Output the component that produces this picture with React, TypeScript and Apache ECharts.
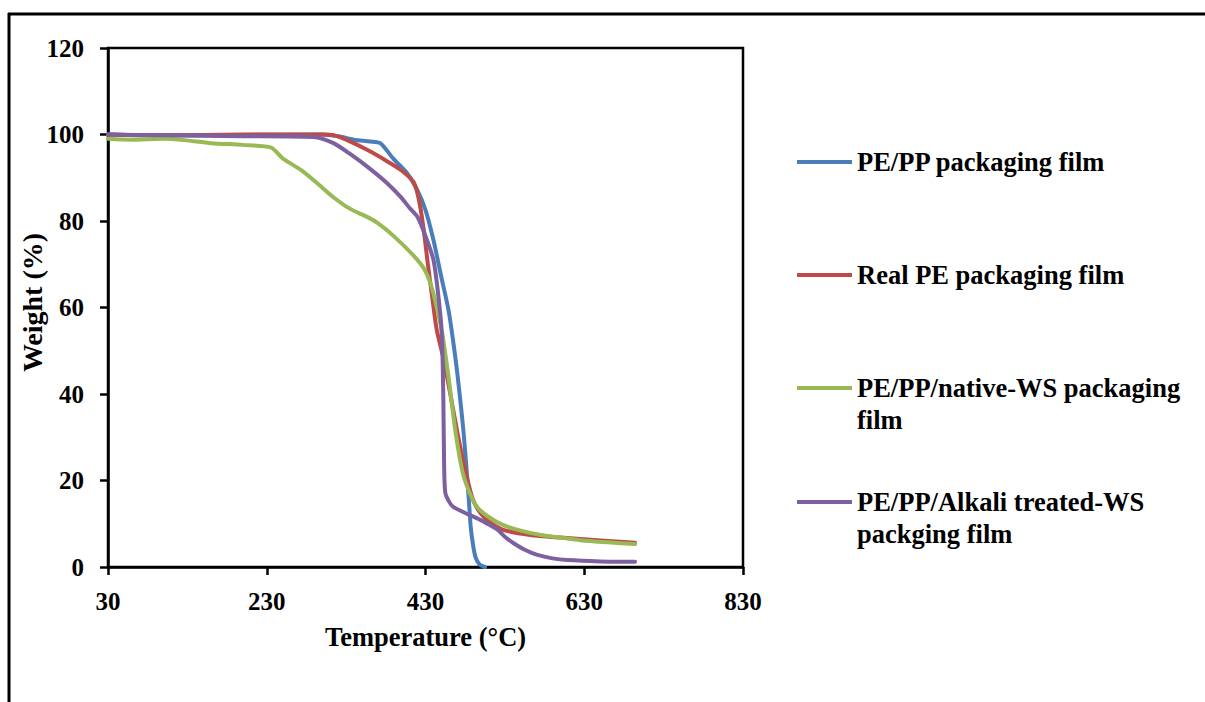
import React, { useEffect, useRef } from "react";
import * as echarts from "echarts";

const seriesNames = [
  "PE/PP packaging film",
  "Real PE packaging film",
  "PE/PP/native-WS packaging film",
  "PE/PP/Alkali treated-WS packging film",
];
const legendLabels = [
  "PE/PP packaging film",
  "Real PE packaging film",
  "\nPE/PP/native-WS packaging\nfilm",
  "\nPE/PP/Alkali treated-WS\npackging film",
];
const colors = ["#4a7ebb", "#be4b48", "#98b954", "#7d60a0"];

const xTicks = [30, 230, 430, 630, 830];

const pePP: [number, number][] = [
  [30, 100], [100, 99.8], [200, 99.9], [300, 100], [320, 99.6], [340, 98.8], [360, 98.4],
  [373, 98], [390, 94.3], [407, 91], [420, 87], [430, 82.5], [440, 75.6], [450, 67],
  [459, 59.4], [465, 52], [470, 44.9], [478, 31], [484, 17.1], [487, 9.2], [490, 5],
  [493, 2.3], [498, 0.6], [505, 0],
];
const realPE: [number, number][] = [
  [30, 100], [100, 99.8], [200, 100], [300, 100], [315, 99.8], [330, 98.8], [357, 96.4],
  [380, 94], [399, 91.8], [415, 89], [421, 85.5], [427, 79], [433, 70], [438, 63],
  [444, 55], [453, 47.9], [461, 40.2], [472, 29.4], [483, 20.1], [490, 15.5], [499, 12.5],
  [510, 10.5], [528, 8.6], [562, 7.4], [600, 6.8], [625, 6.5], [660, 6], [694, 5.6],
];
const nativeWS: [number, number][] = [
  [30, 99], [60, 98.8], [100, 99], [126, 98.7], [160, 98], [200, 97.6], [235, 97],
  [250, 94.5], [273, 91.8], [295, 88.5], [314, 85.5], [335, 82.8], [357, 80.9], [370, 79.5],
  [390, 76.5], [415, 72], [428, 69], [436, 65.7], [443, 61], [451, 54.1], [459, 43.9],
  [468, 31], [477, 21.7], [486, 17], [495, 13.9], [510, 11.5], [528, 9.7], [550, 8.4],
  [575, 7.4], [600, 6.8], [625, 6.2], [660, 5.7], [694, 5.3],
];
const alkaliWS: [number, number][] = [
  [30, 100], [100, 99.8], [200, 99.6], [289, 99.4], [314, 98], [335, 95.5], [357, 92.5],
  [380, 89], [399, 85.5], [410, 83], [420, 80.9], [430, 76.5], [440, 71], [446, 63],
  [450.5, 54.1], [452.5, 38.6], [453.5, 23.1], [455, 17.1], [460, 15], [465, 13.9],
  [480, 12.5], [499, 10.9], [510, 9.8], [521, 8.6], [530, 7], [541, 5.5], [555, 4],
  [571, 2.8], [590, 2], [609, 1.6], [650, 1.3], [694, 1.2],
];
const seriesData = [pePP, realPE, nativeWS, alkaliWS];

const legendTops = [146, 259, 340, 454];

const FONT = "'Liberation Serif', 'Times New Roman', serif";

export default function App() {
  const ref = useRef<HTMLDivElement>(null);
  useEffect(() => {
    if (!ref.current) return;
    const chart = echarts.init(ref.current, undefined, { renderer: "svg" });
    const legends = seriesNames.map((name, i) => ({
      show: true,
      orient: "vertical",
      left: 797,
      top: legendTops[i],
      padding: 0,
      itemWidth: 55,
      itemHeight: 4,
      icon: "rect",
      data: [name],
      formatter: () => legendLabels[i],
      selectedMode: false,
      textStyle: {
        fontFamily: FONT,
        fontWeight: "bold",
        fontSize: 26.5,
        lineHeight: 32,
        color: "#000",
      },
    }));
    chart.setOption({
      animation: false,
      backgroundColor: "#fff",
      grid: {
        left: 108,
        top: 48,
        right: 462,
        bottom: 135,
        show: true,
        borderColor: "#000",
        borderWidth: 2.5,
      },
      legend: legends,
      xAxis: {
        type: "value",
        min: 30,
        max: 830,
        name: "Temperature (°C)",
        nameLocation: "middle",
        nameGap: 56,
        nameMoveOverlap: false,
        nameTextStyle: { fontFamily: FONT, fontWeight: "bold", fontSize: 26.5, color: "#000" },
        axisLine: { show: true, lineStyle: { color: "#000", width: 2.5 } },
        axisTick: {
          show: true,
          inside: false,
          length: 8,
          customValues: xTicks,
          lineStyle: { color: "#000", width: 2.5 },
        },
        axisLabel: {
          customValues: xTicks,
          margin: 22,
          fontFamily: FONT,
          fontWeight: "bold",
          fontSize: 25,
          color: "#000",
        },
        splitLine: { show: false },
      },
      yAxis: {
        type: "value",
        min: 0,
        max: 120,
        interval: 20,
        name: "Weight (%)",
        nameLocation: "middle",
        nameGap: 62,
        nameMoveOverlap: false,
        nameTextStyle: {
          fontFamily: FONT,
          fontWeight: "bold",
          fontSize: 28,
          color: "#000",
          padding: [0, 0, 0, 10],
        },
        axisLine: { show: true, lineStyle: { color: "#000", width: 2.5 } },
        axisTick: { show: true, inside: false, length: 8, lineStyle: { color: "#000", width: 2.5 } },
        axisLabel: {
          margin: 24,
          fontFamily: FONT,
          fontWeight: "bold",
          fontSize: 25,
          color: "#000",
        },
        splitLine: { show: false },
      },
      series: seriesNames.map((name, i) => ({
        name,
        type: "line",
        data: seriesData[i],
        showSymbol: false,
        symbol: "none",
        smooth: 0.25,
        lineStyle: { color: colors[i], width: 4, cap: "round", join: "round" },
        itemStyle: { color: colors[i] },
        z: 2 + i,
      })),
      graphic: [
        { type: "line", shape: { x1: 8, y1: 14, x2: 1205, y2: 14 }, style: { stroke: "#000", lineWidth: 3 } },
        { type: "line", shape: { x1: 9, y1: 13, x2: 9, y2: 702 }, style: { stroke: "#000", lineWidth: 3 } },
      ],
    });
    return () => chart.dispose();
  }, []);
  return (
    <div
      ref={ref}
      style={{ position: "absolute", left: 0, top: 0, width: 1205, height: 702 }}
    />
  );
}
